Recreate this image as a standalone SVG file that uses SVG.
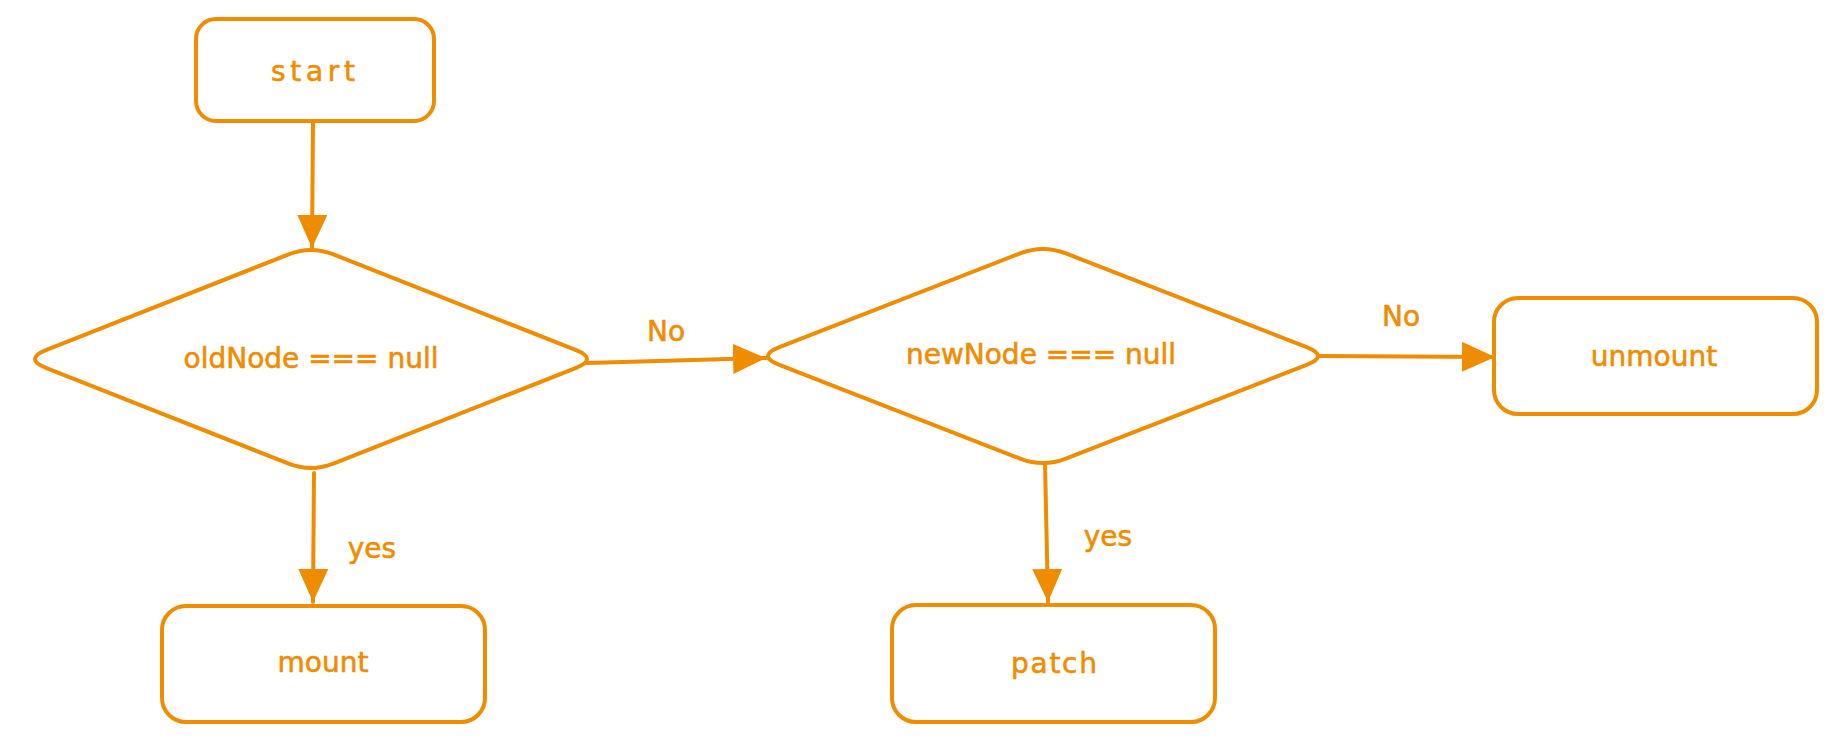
<svg xmlns="http://www.w3.org/2000/svg" width="1836" height="743" viewBox="0 0 1836 743">
  <style>
    .shape { fill: #ffffff; stroke: #f08c00; stroke-width: 4; stroke-linejoin: round; }
    .edge { fill: none; stroke: #f08c00; stroke-width: 4; stroke-linecap: round; }
    .label { font-family: "DejaVu Sans", "Liberation Sans", sans-serif; font-size: 28px; fill: #f08c00; stroke: #f08c00; stroke-width: 0.6; text-anchor: middle; }
  </style>
  <defs>
    <marker id="head" viewBox="0 0 33 30" refX="33" refY="15" markerWidth="33" markerHeight="30" markerUnits="userSpaceOnUse" orient="auto">
      <path d="M0,0 L33,15 L0,30 Z" fill="#f08c00"/>
    </marker>
  </defs>
  <rect width="1836" height="743" fill="#ffffff"/>

  <g id="connectors">
    <path class="edge" d="M313,123 L312,248" marker-end="url(#head)"/>
    <path class="edge" d="M587,363 L766,358" marker-end="url(#head)"/>
    <path class="edge" d="M1318,356 L1495,357" marker-end="url(#head)"/>
    <path class="edge" d="M314,473 L313,602" marker-end="url(#head)"/>
    <path class="edge" d="M1045,463 L1048,602" marker-end="url(#head)"/>
    <text class="label" x="666" y="341">No</text>
    <text class="label" x="1401" y="326">No</text>
    <text class="label" x="372" y="558">yes</text>
    <text class="label" x="1108" y="546">yes</text>
  </g>

  <g id="start">
    <rect class="shape" x="196" y="19" width="238" height="102" rx="20" ry="20"/>
    <text class="label" x="313" y="81" textLength="84">start</text>
  </g>

  <g id="oldNode-check">
    <path class="shape" d="M334,254.6 L575.5,349.9 Q598.5,359 575.5,368.1 L334,463.4 Q311,472.5 288,463.4 L46.5,368.1 Q23.5,359 46.5,349.9 L288,254.6 Q311,245.5 334,254.6 Z"/>
    <text class="label" x="311" y="368">oldNode === null</text>
  </g>

  <g id="newNode-check">
    <path class="shape" d="M1065.9,253.4 L1306.6,347.1 Q1329.5,356 1306.6,364.9 L1065.9,458.6 Q1043,467.5 1020.1,458.6 L779.4,364.9 Q756.5,356 779.4,347.1 L1020.1,253.4 Q1043,244.5 1065.9,253.4 Z"/>
    <text class="label" x="1041" y="364">newNode === null</text>
  </g>

  <g id="unmount">
    <rect class="shape" x="1494" y="298" width="323" height="116" rx="24" ry="24"/>
    <text class="label" x="1654" y="366">unmount</text>
  </g>

  <g id="mount">
    <rect class="shape" x="162" y="606" width="323" height="116" rx="24" ry="24"/>
    <text class="label" x="323" y="672">mount</text>
  </g>

  <g id="patch">
    <rect class="shape" x="892" y="605" width="323" height="117" rx="24" ry="24"/>
    <text class="label" x="1054" y="673" textLength="86">patch</text>
  </g>
</svg>
